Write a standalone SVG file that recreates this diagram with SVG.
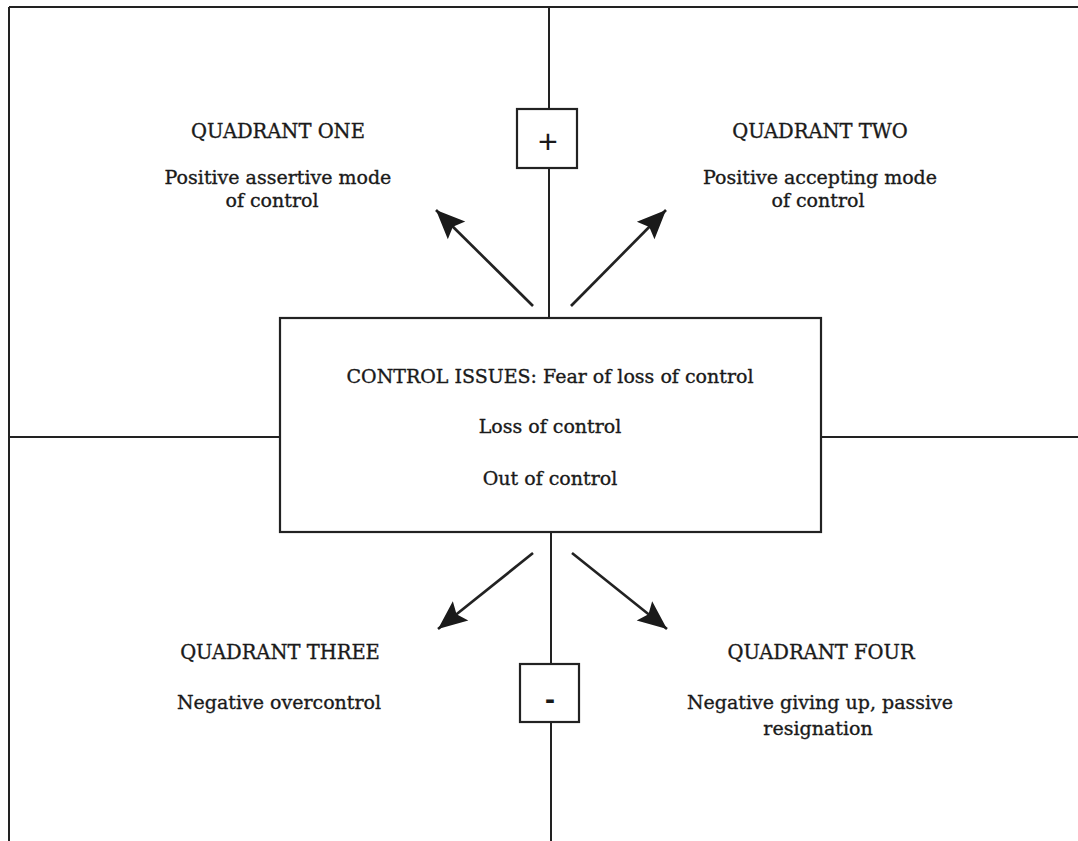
<svg xmlns="http://www.w3.org/2000/svg" width="1078" height="841" viewBox="0 0 1078 841">
<style>
.ln{stroke:#222;stroke-width:2;fill:none}
.bx{stroke:#222;stroke-width:2.2;fill:#fff}
.ar{stroke:#222;stroke-width:2.7;fill:none}
.t{font-family:"DejaVu Serif","Liberation Serif",serif;font-size:19px;fill:#1a1a1a;stroke:#1a1a1a;stroke-width:0.35;text-anchor:middle}
.h{font-family:"DejaVu Serif","Liberation Serif",serif;font-size:19.5px;fill:#1a1a1a;stroke:#1a1a1a;stroke-width:0.35;text-anchor:middle}
.s{font-family:"Liberation Sans",Arial,sans-serif;fill:#1a1a1a;text-anchor:middle}
</style>
<defs>
<marker id="ah" markerUnits="userSpaceOnUse" markerWidth="32" markerHeight="32" viewBox="-29 -14 31 28" refX="0" refY="0" orient="auto">
<path d="M0,0 L-28,-12 L-23,0 L-28,12 Z" fill="#1a1a1a"/>
</marker>
</defs>
<rect width="1078" height="841" fill="#fff"/>
<g id="frame">
<line class="ln" x1="9" y1="7" x2="1078" y2="7"/>
<line class="ln" x1="9" y1="7" x2="9" y2="841"/>
</g>
<g id="connectors">
<line class="ln" x1="549" y1="7" x2="549" y2="109"/>
<line class="ln" x1="549" y1="168" x2="549" y2="318"/>
<line class="ln" x1="9" y1="437" x2="280" y2="437"/>
<line class="ln" x1="821" y1="437" x2="1078" y2="437"/>
<line class="ln" x1="551" y1="532" x2="551" y2="664"/>
<line class="ln" x1="551" y1="722" x2="551" y2="841"/>
<line class="ar" x1="533" y1="306" x2="436" y2="210" marker-end="url(#ah)"/>
<line class="ar" x1="571" y1="306" x2="666" y2="210" marker-end="url(#ah)"/>
<line class="ar" x1="533" y1="553" x2="438" y2="629" marker-end="url(#ah)"/>
<line class="ar" x1="572" y1="553" x2="667" y2="629" marker-end="url(#ah)"/>
</g>
<g id="plus">
<rect class="bx" x="517" y="109" width="60" height="59"/>
<text class="s" x="548" y="153" font-size="34">+</text>
</g>
<g id="minus">
<rect class="bx" x="520" y="664" width="59" height="58"/>
<text class="s" x="550" y="709" font-size="30" font-weight="bold">-</text>
</g>
<g id="center">
<rect class="bx" x="280" y="318" width="541" height="214"/>
<text class="t" x="550" y="383">CONTROL ISSUES: Fear of loss of control</text>
<text class="t" x="550" y="433">Loss of control</text>
<text class="t" x="550" y="485">Out of control</text>
</g>
<g id="q1">
<text class="h" x="278" y="138">QUADRANT ONE</text>
<text class="t" x="278" y="184">Positive assertive mode</text>
<text class="t" x="272" y="207">of control</text>
</g>
<g id="q2">
<text class="h" x="820" y="138">QUADRANT TWO</text>
<text class="t" x="820" y="184">Positive accepting mode</text>
<text class="t" x="818" y="207">of control</text>
</g>
<g id="q3">
<text class="h" x="280" y="659">QUADRANT THREE</text>
<text class="t" x="279" y="709">Negative overcontrol</text>
</g>
<g id="q4">
<text class="h" x="821" y="659">QUADRANT FOUR</text>
<text class="t" x="820" y="709">Negative giving up, passive</text>
<text class="t" x="818" y="735">resignation</text>
</g>
</svg>
